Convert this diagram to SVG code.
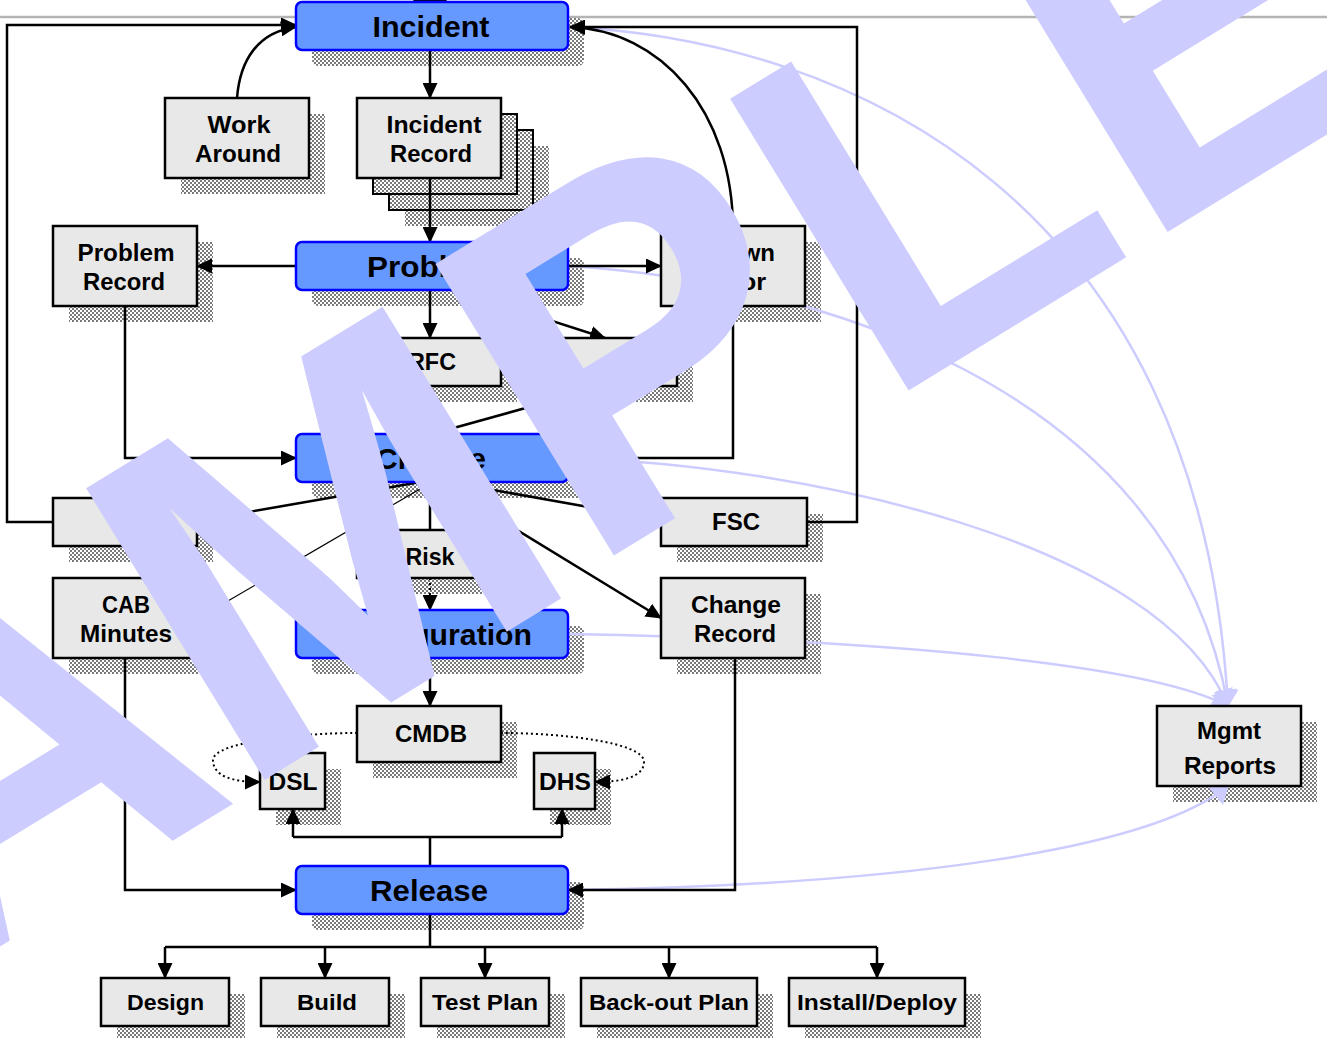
<svg xmlns="http://www.w3.org/2000/svg" width="1327" height="1038" viewBox="0 0 1327 1038">
<defs>
<pattern id="chk" width="4" height="4" patternUnits="userSpaceOnUse"><rect width="4" height="4" fill="#ffffff"/><rect width="2" height="2" fill="#7a7a7a"/><rect x="2" y="2" width="2" height="2" fill="#7a7a7a"/></pattern>
<marker id="ah" markerUnits="userSpaceOnUse" markerWidth="16" markerHeight="15" refX="15" refY="7.5" orient="auto"><path d="M0,0 L16,7.5 L0,15 Z" fill="#000"/></marker>
<marker id="pa" markerUnits="userSpaceOnUse" markerWidth="17" markerHeight="23" refX="16" refY="11.5" orient="auto"><path d="M0,0 L17,11.5 L0,23 Z" fill="#ccccff"/></marker>
<style>
.box{fill:#e8e8e8;stroke:#000;stroke-width:2.5}
.lay{fill:url(#chk);stroke:#000;stroke-width:2}
.proc{fill:#6699ff;stroke:#0000ff;stroke-width:2.5}
.sh{fill:url(#chk)}
.t{font-family:"Liberation Sans",Arial,sans-serif;font-weight:bold;font-size:23px;text-anchor:middle;fill:#000}
.tp{font-size:30px}
.tb{font-size:22px}
.ln{fill:none;stroke:#000;stroke-width:2.5}
.thin{fill:none;stroke:#000;stroke-width:1.2}
.dot{fill:none;stroke:#000;stroke-width:2;stroke-dasharray:2 3}
.pl{fill:none;stroke:#ccccff;stroke-width:2.5}
.wm{font-family:"Liberation Sans",Arial,sans-serif;font-weight:bold;font-size:497px;fill:#ccccff}
</style>
</defs>
<rect width="1327" height="1038" fill="#fff"/>
<path d="M0,17 H1327" stroke="#b4b4b4" stroke-width="2.5"/>
<path d="M413,0 L447,0 L443,5 L430,2 L417,5 Z" fill="#000"/>

<g id="shadows">
<rect class="sh" x="312" y="18" width="272" height="48" rx="6"/>
<rect class="sh" x="181" y="114" width="144" height="80"/>
<rect class="sh" x="405" y="146" width="144" height="80"/>
<rect class="lay" x="389" y="130" width="144" height="80"/>
<rect class="lay" x="373" y="114" width="144" height="80"/>
<rect class="sh" x="312" y="258" width="272" height="48" rx="6"/>
<rect class="sh" x="69" y="242" width="144" height="80"/>
<rect class="sh" x="677" y="242" width="144" height="80"/>
<rect class="sh" x="373" y="354" width="144" height="48"/>
<rect class="sh" x="549" y="354" width="144" height="48"/>
<rect class="sh" x="312" y="450" width="272" height="48" rx="6"/>
<rect class="sh" x="69" y="514" width="144" height="48"/>
<rect class="sh" x="677" y="514" width="146" height="48"/>
<rect class="sh" x="373" y="546" width="144" height="48"/>
<rect class="sh" x="69" y="594" width="144" height="80"/>
<rect class="sh" x="677" y="594" width="144" height="80"/>
<rect class="sh" x="312" y="626" width="272" height="48" rx="6"/>
<rect class="sh" x="373" y="722" width="144" height="56"/>
<rect class="sh" x="276" y="769" width="65" height="56"/>
<rect class="sh" x="550" y="769" width="61" height="56"/>
<rect class="sh" x="312" y="882" width="272" height="48" rx="6"/>
<rect class="sh" x="117" y="994" width="128" height="48"/>
<rect class="sh" x="277" y="994" width="128" height="48"/>
<rect class="sh" x="437" y="994" width="128" height="48"/>
<rect class="sh" x="597" y="994" width="176" height="48"/>
<rect class="sh" x="805" y="994" width="176" height="48"/>
<rect class="sh" x="1173" y="722" width="144" height="80"/>
</g>

<g id="connectors">
<path class="pl" d="M568,27 C850,40 1200,200 1228,706" marker-end="url(#pa)"/>
<path class="pl" d="M568,266 C800,280 1170,380 1228,706" marker-end="url(#pa)"/>
<path class="pl" d="M568,458 C800,465 1160,540 1228,706" marker-end="url(#pa)"/>
<path class="pl" d="M568,634 C900,640 1150,665 1228,706" marker-end="url(#pa)"/>
<path class="pl" d="M568,890 C900,885 1150,850 1228,786" marker-end="url(#pa)"/>
<path class="ln" d="M430,50 V98" marker-end="url(#ah)"/>
<path class="ln" d="M430,178 V242" marker-end="url(#ah)"/>
<path class="ln" d="M237,98 C240,60 258,32 296,27" marker-end="url(#ah)"/>
<path class="ln" d="M53,522 H7 V25 H296" marker-end="url(#ah)"/>
<path class="ln" d="M807,522 H857 V27 H570" marker-end="url(#ah)"/>
<path class="ln" d="M568,458 H733 V230 C733,110 660,30 570,27" marker-end="url(#ah)"/>
<path class="ln" d="M296,266 H197" marker-end="url(#ah)"/>
<path class="ln" d="M568,266 H661" marker-end="url(#ah)"/>
<path class="ln" d="M430,290 V338" marker-end="url(#ah)"/>
<path class="ln" d="M456,290 L605,338" marker-end="url(#ah)"/>
<path class="ln" d="M125,306 V458 H296" marker-end="url(#ah)"/>
<path class="ln" d="M430,386 V434" marker-end="url(#ah)"/>
<path class="ln" d="M432,434 L605,386"/>
<path class="ln" d="M432,480 L197,521"/>
<path class="thin" d="M432,482 L197,619"/>
<path class="ln" d="M432,479 L661,520"/>
<path class="ln" d="M432,478 L661,618" marker-end="url(#ah)"/>
<path class="ln" d="M430,482 V530"/>
<path class="dot" d="M430,578 V610" marker-end="url(#ah)"/>
<path class="ln" d="M430,658 V706" marker-end="url(#ah)"/>
<path class="dot" d="M357,733 C300,733 213,742 213,760 C213,776 232,782 260,782" marker-end="url(#ah)"/>
<path class="dot" d="M501,733 C560,733 644,742 644,762 C644,777 622,782 595,782" marker-end="url(#ah)"/>
<path class="ln" d="M430,866 V837 M293,837 H562"/>
<path class="ln" d="M293,837 V809" marker-end="url(#ah)"/>
<path class="ln" d="M562,837 V809" marker-end="url(#ah)"/>
<path class="ln" d="M125,658 V890 H296" marker-end="url(#ah)"/>
<path class="ln" d="M735,658 V890 H568" marker-end="url(#ah)"/>
<path class="ln" d="M430,914 V947 M165,947 H877"/>
<path class="ln" d="M165,947 V978" marker-end="url(#ah)"/>
<path class="ln" d="M325,947 V978" marker-end="url(#ah)"/>
<path class="ln" d="M485,947 V978" marker-end="url(#ah)"/>
<path class="ln" d="M669,947 V978" marker-end="url(#ah)"/>
<path class="ln" d="M877,947 V978" marker-end="url(#ah)"/>
</g>

<g id="incident">
<rect class="proc" x="296" y="2" width="272" height="48" rx="6"/>
<text class="t tp" x="431" y="36.5" textLength="117" lengthAdjust="spacingAndGlyphs">Incident</text>
</g>
<g id="work-around">
<rect class="box" x="165" y="98" width="144" height="80"/>
<text class="t" x="239" y="133" textLength="63" lengthAdjust="spacingAndGlyphs">Work</text>
<text class="t" x="238" y="162" textLength="86" lengthAdjust="spacingAndGlyphs">Around</text>
</g>
<g id="incident-record">
<rect class="box" x="357" y="98" width="144" height="80"/>
<text class="t" x="434" y="133" textLength="95" lengthAdjust="spacingAndGlyphs">Incident</text>
<text class="t" x="431" y="162" textLength="82" lengthAdjust="spacingAndGlyphs">Record</text>
</g>
<g id="problem">
<rect class="proc" x="296" y="242" width="272" height="48" rx="6"/>
<text class="t tp" x="430" y="276.5" textLength="126" lengthAdjust="spacingAndGlyphs">Problem</text>
</g>
<g id="problem-record">
<rect class="box" x="53" y="226" width="144" height="80"/>
<text class="t" x="126" y="261" textLength="97" lengthAdjust="spacingAndGlyphs">Problem</text>
<text class="t" x="124" y="290" textLength="82" lengthAdjust="spacingAndGlyphs">Record</text>
</g>
<g id="known-error">
<rect class="box" x="661" y="226" width="144" height="80"/>
<text class="t" x="735" y="261" textLength="80" lengthAdjust="spacingAndGlyphs">Known</text>
<text class="t" x="735" y="290" textLength="62" lengthAdjust="spacingAndGlyphs">Error</text>
</g>
<g id="rfc">
<rect class="box" x="357" y="338" width="144" height="48"/>
<text class="t" x="432" y="370" textLength="48" lengthAdjust="spacingAndGlyphs">RFC</text>
</g>
<g id="box-x">
<rect class="box" x="533" y="338" width="144" height="48"/>
</g>
<g id="change">
<rect class="proc" x="296" y="434" width="272" height="48" rx="6"/>
<text class="t tp" x="431" y="468.5" textLength="110" lengthAdjust="spacingAndGlyphs">Change</text>
</g>
<g id="psa">
<rect class="box" x="53" y="498" width="144" height="48"/>
</g>
<g id="fsc">
<rect class="box" x="661" y="498" width="146" height="48"/>
<text class="t" x="736" y="530" textLength="48" lengthAdjust="spacingAndGlyphs">FSC</text>
</g>
<g id="risk">
<rect class="box" x="357" y="530" width="144" height="48"/>
<text class="t" x="430" y="565" textLength="49" lengthAdjust="spacingAndGlyphs">Risk</text>
</g>
<g id="cab-minutes">
<rect class="box" x="53" y="578" width="144" height="80"/>
<text class="t" x="126" y="613" textLength="48" lengthAdjust="spacingAndGlyphs">CAB</text>
<text class="t" x="126" y="642" textLength="92" lengthAdjust="spacingAndGlyphs">Minutes</text>
</g>
<g id="change-record">
<rect class="box" x="661" y="578" width="144" height="80"/>
<text class="t" x="736" y="613" textLength="90" lengthAdjust="spacingAndGlyphs">Change</text>
<text class="t" x="735" y="642" textLength="82" lengthAdjust="spacingAndGlyphs">Record</text>
</g>
<g id="configuration">
<rect class="proc" x="296" y="610" width="272" height="48" rx="6"/>
<text class="t tp" x="433" y="644.5" textLength="198" lengthAdjust="spacingAndGlyphs">Configuration</text>
</g>
<g id="cmdb">
<rect class="box" x="357" y="706" width="144" height="56"/>
<text class="t" x="431" y="742" textLength="72" lengthAdjust="spacingAndGlyphs">CMDB</text>
</g>
<g id="dsl">
<rect class="box" x="260" y="753" width="65" height="56"/>
<text class="t" x="293" y="790" textLength="49" lengthAdjust="spacingAndGlyphs">DSL</text>
</g>
<g id="dhs">
<rect class="box" x="534" y="753" width="61" height="56"/>
<text class="t" x="565" y="790" textLength="52" lengthAdjust="spacingAndGlyphs">DHS</text>
</g>
<g id="release">
<rect class="proc" x="296" y="866" width="272" height="48" rx="6"/>
<text class="t tp" x="429" y="900.5" textLength="118" lengthAdjust="spacingAndGlyphs">Release</text>
</g>
<g id="design">
<rect class="box" x="101" y="978" width="128" height="48"/>
<text class="t tb" x="165.5" y="1010" textLength="77" lengthAdjust="spacingAndGlyphs">Design</text>
</g>
<g id="build">
<rect class="box" x="261" y="978" width="128" height="48"/>
<text class="t tb" x="327" y="1010" textLength="60" lengthAdjust="spacingAndGlyphs">Build</text>
</g>
<g id="test-plan">
<rect class="box" x="421" y="978" width="128" height="48"/>
<text class="t tb" x="485" y="1010" textLength="106" lengthAdjust="spacingAndGlyphs">Test Plan</text>
</g>
<g id="back-out-plan">
<rect class="box" x="581" y="978" width="176" height="48"/>
<text class="t tb" x="669" y="1010" textLength="160" lengthAdjust="spacingAndGlyphs">Back-out Plan</text>
</g>
<g id="install-deploy">
<rect class="box" x="789" y="978" width="176" height="48"/>
<text class="t tb" x="877" y="1010" textLength="160" lengthAdjust="spacingAndGlyphs">Install/Deploy</text>
</g>
<g id="mgmt-reports">
<rect class="box" x="1157" y="706" width="144" height="80"/>
<text class="t" x="1229" y="739" textLength="64" lengthAdjust="spacingAndGlyphs">Mgmt</text>
<text class="t" x="1230" y="774" textLength="92" lengthAdjust="spacingAndGlyphs">Reports</text>
</g>

<g id="watermark">
<text class="wm" transform="matrix(0.853,-0.522,0.522,0.853,-344.6,1157.4)">SA<tspan dx="-7" dy="-4">M</tspan><tspan dx="1" dy="-9">P</tspan><tspan dx="6" dy="13">LE</tspan></text>
</g>
</svg>
